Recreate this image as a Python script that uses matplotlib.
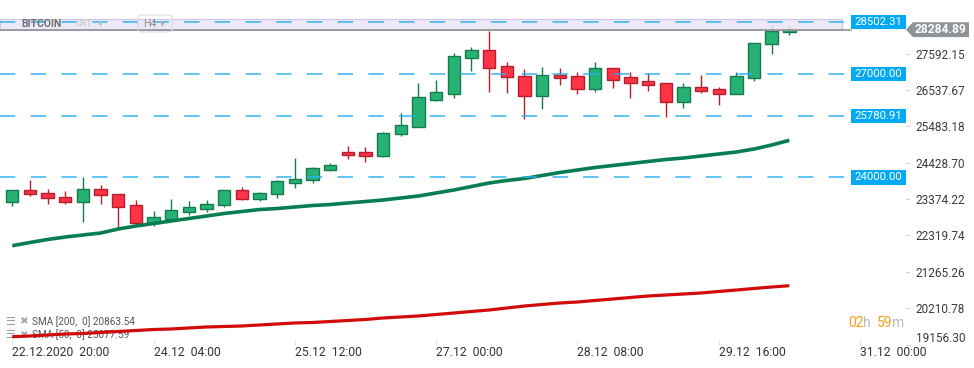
import matplotlib.pyplot as plt
import numpy as np
from matplotlib.patches import Rectangle, Polygon, FancyBboxPatch
from matplotlib.transforms import blended_transform_factory

plt.rcParams['font.family'] = ['Roboto', 'DejaVu Sans']

# H4 candles, BITCOIN
opens = [23299, 23629, 23542, 23426, 23299, 23658, 23513, 23194, 22690, 22806,
         23009, 23096, 23194, 23629, 23368, 23513, 23849, 23919, 24226, 24730,
         24730, 24614, 25252, 25472, 26255, 26429, 27472, 27687, 27223, 26933,
         26371, 26962, 26933, 26574, 27165, 26904, 26788, 26730, 26197, 26614,
         26557, 26429, 26893, 27861, 28230]
highs = [23640, 23927, 23667, 23609, 24014, 23783, 23530, 23348, 23029, 23377,
         23319, 23348, 23640, 23725, 23580, 23927, 24565, 24304, 24412, 24913,
         24884, 25310, 25870, 26739, 26826, 27609, 27783, 28246, 27348, 27145,
         27203, 27174, 27058, 27348, 27180, 27058, 27029, 26740, 26739, 26962,
         26614, 27049, 27900, 28420, 28420]
lows = [23183, 23472, 23241, 23241, 22719, 23241, 22545, 22623, 22603, 22739,
        22913, 23000, 23154, 23355, 23328, 23415, 23704, 23849, 24197, 24545,
        24458, 24600, 25212, 25460, 26226, 26313, 27096, 26487, 26458, 25704,
        25994, 26690, 26429, 26487, 26603, 26313, 26516, 25762, 26023, 26458,
        26110, 26420, 26806, 27588, 28139]
closes = [23629, 23513, 23397, 23299, 23658, 23484, 23154, 22673, 22846, 23049,
          23136, 23223, 23629, 23368, 23542, 23890, 23948, 24267, 24354, 24661,
          24614, 25281, 25513, 26325, 26470, 27513, 27687, 27183, 26904, 26371,
          26962, 26893, 26574, 27165, 26835, 26748, 26690, 26197, 26614, 26516,
          26429, 26933, 27890, 28238, 28284.89]

sma50 = [22023, 22116, 22203, 22275, 22333, 22391, 22507, 22594, 22667, 22739,
         22812, 22884, 22957, 23014, 23072, 23101, 23145, 23188, 23217, 23261,
         23304, 23348, 23406, 23464, 23551, 23638, 23739, 23841, 23913, 23971,
         24058, 24145, 24217, 24290, 24348, 24406, 24464, 24522, 24565, 24623,
         24681, 24739, 24826, 24942, 25077.59]
sma200 = [19386, 19406, 19435, 19464, 19478, 19507, 19536, 19565, 19594, 19609,
          19638, 19667, 19681, 19696, 19725, 19754, 19783, 19797, 19826, 19855,
          19884, 19928, 19957, 19986, 20029, 20072, 20116, 20159, 20217, 20275,
          20319, 20362, 20391, 20435, 20478, 20522, 20565, 20594, 20623, 20652,
          20696, 20739, 20783, 20826, 20863.54]

levels = [28502.31, 27000.00, 25780.91, 24000.00]
last_price = 28284.89

ytick_vals = [19156.30, 20210.78, 21265.26, 22319.74, 23374.22,
              24428.70, 25483.18, 26537.67, 27592.15]
ytick_labels = ['19156.30', '20210.78', '21265.26', '22319.74', '23374.22',
                '24428.70', '25483.18', '26537.67', '27592.15']
xtick_idx = [0, 8, 16, 24, 32, 40, 48]
xtick_labels = ['22.12.2020  20:00', '24.12  04:00', '25.12  12:00', '27.12  00:00',
                '28.12  08:00', '29.12  16:00', '31.12  00:00']

GREEN, GREEN_EDGE = '#26b273', '#167a50'
RED, RED_EDGE = '#ff3346', '#b41e2d'
LEVEL = '#03a9f4'

W, H = 974, 368
AX_R, AX_B = 906, 344.6
fig = plt.figure(figsize=(W / 100, H / 100), dpi=100)
ax = fig.add_axes([0, (H - AX_B) / H, AX_R / W, AX_B / H])
ax.set_xlim(-0.6965, 50.606)
ax.set_ylim(19156.30, 29145)
for s in ax.spines.values():
    s.set_visible(False)


def apx(x, y):
    """pixel (from top-left of figure) -> axes fraction"""
    return x / AX_R, 1 - y / AX_B


blend = blended_transform_factory(ax.transAxes, ax.transData)

# candles
o, hi, lo, c = map(np.asarray, (opens, highs, lows, closes))
idx = np.arange(len(o))
up = c >= o
face = np.where(up, GREEN, RED)
edge = np.where(up, GREEN_EDGE, RED_EDGE)
ax.vlines(idx, lo, hi, colors=edge, lw=1.0, zorder=2)
ax.bar(idx, np.abs(c - o), bottom=np.minimum(o, c), width=0.70,
       color=face, edgecolor=edge, linewidth=1.0, zorder=3)

# moving averages
ax.plot(idx, sma50, color='#087d50', lw=2.6, zorder=4, solid_capstyle='butt')
ax.plot(idx, sma200, color='#d10a0a', lw=2.3, zorder=4, solid_capstyle='butt')

# header band
bx0, by0 = apx(0, 30)
bx1, by1 = apx(842, 19)
ax.add_patch(Rectangle((bx0, by0), bx1 - bx0, by1 - by0, transform=ax.transAxes,
                       facecolor='#e9e4f4', edgecolor='#cbbde6', lw=0.8,
                       alpha=0.85, zorder=5, clip_on=False))
ax.plot([0, 851 / AX_R], [by0, by0], transform=ax.transAxes, color='#8a8a8a',
        lw=1.1, zorder=5, clip_on=False)

# levels
box_x = 851 / AX_R
for lv in levels:
    ax.axhline(lv, xmin=0, xmax=box_x, color='#29b0f0', lw=1.3,
               dashes=(8.5, 8.5), alpha=0.8, zorder=6)
    ax.add_patch(Rectangle((box_x, lv - 205), 1 - box_x, 410, transform=blend,
                           facecolor=LEVEL, edgecolor='none', zorder=7, clip_on=False))
    ax.text((box_x + 1) / 2, lv, f'{lv:.2f}', transform=blend, ha='center',
            va='center', color='white', fontsize=8.2, zorder=8)

# last price tag
t0, t1, t2 = 1.0, 913 / AX_R, 969 / AX_R
hh = 215
ax.add_patch(Polygon([(t0, last_price), (t1, last_price + hh), (t2, last_price + hh),
                      (t2, last_price - hh), (t1, last_price - hh)], closed=True,
                     transform=blend, facecolor='#8d9499', edgecolor='none',
                     zorder=8, clip_on=False))
ax.text((t1 + t2) / 2, last_price, f'{last_price:.2f}', transform=blend,
        ha='center', va='center', color='white', fontsize=8.7, fontweight='bold', zorder=9)

# axes ticks
ax.yaxis.tick_right()
ax.set_yticks(ytick_vals, ytick_labels)
ax.tick_params(axis='y', length=3, color='#d0d0d0', pad=4, labelsize=8.5,
               labelcolor='#3a3a3a')
ax.get_yticklabels()[0].set_verticalalignment('bottom')
ax.set_xticks(xtick_idx, xtick_labels)
for t in ax.get_xticklabels():
    t.set_horizontalalignment('left')
ax.tick_params(axis='x', direction='in', length=4, color='#e6e6e6', pad=1,
               labelsize=8.7, labelcolor='#333333')

# header texts
ax.text(*apx(21, 24), 'BITCOIN', transform=ax.transAxes, va='center',
        fontsize=7.5, fontweight='bold', color='#6f6f6f', zorder=9)
ax.text(*apx(75, 24), 'CRT', transform=ax.transAxes, va='center',
        fontsize=6.5, color='#c0c0c0', zorder=9)
ax.text(*apx(98, 23), '▾', transform=ax.transAxes, va='center',
        fontsize=7, color='#c0c0c0', zorder=9)
hx0, hy0 = apx(138, 32)
hx1, hy1 = apx(172, 15)
ax.add_patch(FancyBboxPatch((hx0, hy0), hx1 - hx0, hy1 - hy0,
                            boxstyle='round,pad=0,rounding_size=0.006',
                            transform=ax.transAxes, facecolor='none',
                            edgecolor='#dddddd', lw=0.8, zorder=9, clip_on=False))
ax.text(*apx(143, 24), 'H4', transform=ax.transAxes, va='center',
        fontsize=7.5, color='#8a8a8a', zorder=9)
ax.text(*apx(160, 23), '▾', transform=ax.transAxes, va='center',
        fontsize=7, color='#b0b0b0', zorder=9)

# legend
for ypx, lab in [(321.7, 'SMA [200,  0] 20863.54'), (335, 'SMA [50,  0] 25077.59')]:
    ax.text(*apx(5, ypx), '☰', transform=ax.transAxes, va='center',
            fontsize=8, fontweight='bold', color='#a0a0a0', zorder=1)
    ax.text(*apx(19, ypx), '✖', transform=ax.transAxes, va='center',
            fontsize=7.5, color='#a8a8a8', zorder=1)
    ax.text(*apx(32, ypx), lab, transform=ax.transAxes, va='center',
            fontsize=7.2, color='#555555', zorder=1)

# countdown
for xpx, txt, col in [(848, '02', '#f7a11a'), (863, 'h', '#bdbdbd'),
                      (877, '59', '#f7a11a'), (892, 'm', '#bdbdbd')]:
    ax.text(*apx(xpx, 323), txt, transform=ax.transAxes, va='center',
            fontsize=10, color=col, zorder=9)

fig.savefig('out.png', dpi=100)
